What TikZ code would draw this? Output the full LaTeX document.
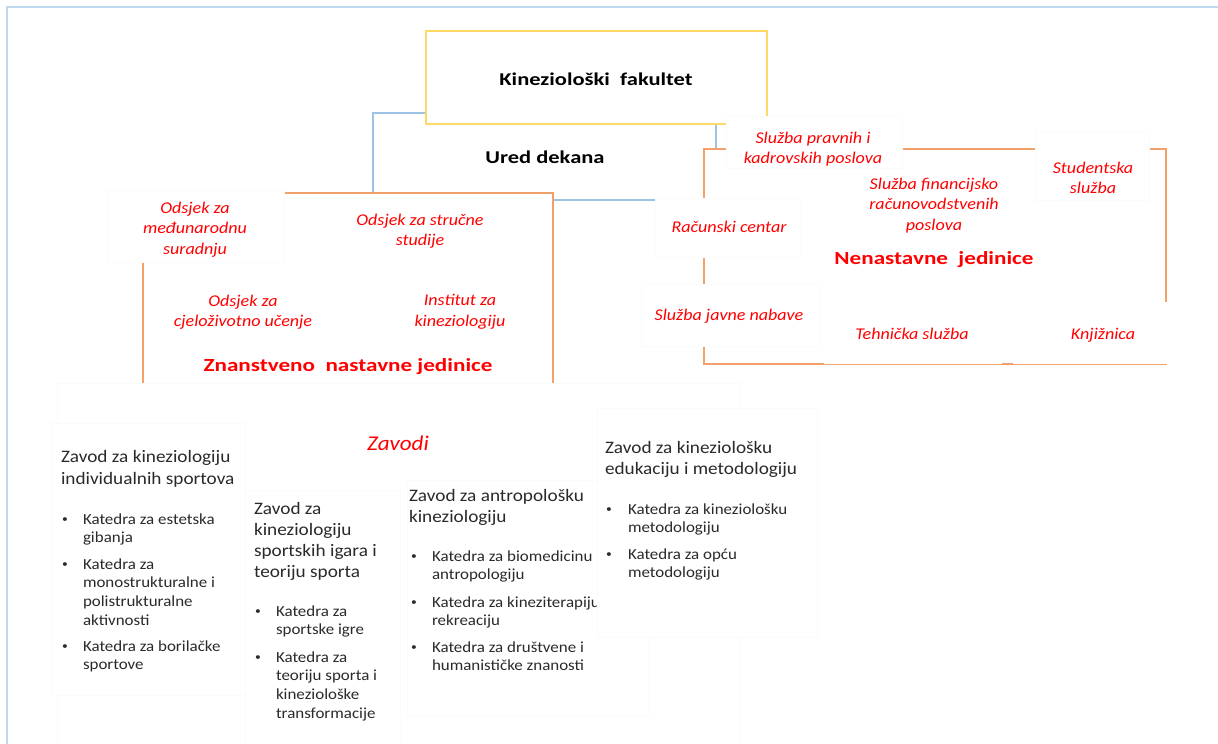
\documentclass[tikz,border=0pt]{standalone}
\usepackage{fontspec}
\setmainfont{Carlito}[FakeStretch=1.1]
\newfontfamily\widef{Carlito}[FakeStretch=1.25]
\definecolor{frameblue}{HTML}{BDD7EE}
\definecolor{lineblue}{HTML}{9DC3E6}
\definecolor{lineyellow}{HTML}{FFD966}
\definecolor{lineorange}{HTML}{F4A06A}
\definecolor{txtred}{HTML}{FF0000}
\definecolor{txtdark}{HTML}{2A2A2A}
\definecolor{faintline}{HTML}{FBFBFB}
\begin{document}
\begin{tikzpicture}[x=1pt,y=-1pt,
  every node/.style={inner sep=0pt, outer sep=0pt},
  head/.style={font=\widef\bfseries\fontsize{18}{22}\selectfont, text=black, anchor=base},
  redhead/.style={font=\widef\bfseries\fontsize{18.5}{22}\selectfont, text=txtred, anchor=base},
  unit/.style={font=\itshape\fontsize{16.4}{20.5}\selectfont, text=txtred, align=center, anchor=base},
  zavodi/.style={font=\itshape\fontsize{21}{25}\selectfont, text=txtred, anchor=base},
  ztitle/.style={font=\fontsize{17.5}{21.1}\selectfont, text=txtdark, align=left, anchor=base west},
  zitem/.style={font=\fontsize{15.4}{18.7}\selectfont, text=txtdark, align=left, anchor=base west},
  zbullet/.style={font=\fontsize{10.5}{12}\selectfont, text=txtdark, anchor=base west, yshift=1.8pt},
  wbox/.style={fill=white, draw=faintline, line width=0.8pt},
  wplain/.style={fill=white},
  orangebox/.style={draw=lineorange, line width=2pt, fill=white},
]
\useasboundingbox (0,0) rectangle (1218,744);
% outer frame
\draw[frameblue, line width=2.5pt] (7,744) -- (7,7) -- (1218,7);
% Ured dekana frame (blue)
\draw[lineblue, line width=2pt] (373,113) rectangle (716,200);
% Kinezioloski fakultet box (yellow)
\draw[lineyellow, line width=1.5pt, fill=white] (426,31) rectangle (767,124);
% orange group boxes
\path[orangebox] (143,193) rectangle (553,420);
\path[orangebox] (704,149) rectangle (1166,364);
% white text boxes covering lines
\path[wbox] (107,190) rectangle (284,262);
\path[wbox] (726,116) rectangle (902,168);
\path[wbox] (1035,131) rectangle (1149,200);
\path[wbox] (655,198) rectangle (800,257);
\path[wbox] (641,284) rectangle (820,346);
\path[wplain] (824,300) rectangle (1002,364.3);
\path[wplain] (1013,302) rectangle (1190,364.3);

% top headings
\node[head] (fak) at (596,85) {Kineziološki~ fakultet};
\node[head] (dekan) at (545,163.5) {Ured dekana};

% Znanstveno nastavne jedinice (anchor = baseline of last line)
\node[unit] (odsMS) at (195,254) {Odsjek za\\međunarodnu\\suradnju};
\node[unit] (odsSS) at (420,245.5) {Odsjek za stručne\\studije};
\node[unit] (odsCU) at (243,326.5) {Odsjek za\\cjeloživotno učenje};
\node[unit] (inst) at (460,326) {Institut za\\kineziologiju};
\node[redhead] (znj) at (348,371) {Znanstveno~ nastavne jedinice};

% Nenastavne jedinice
\node[unit] (spk) at (813,163.5) {Služba pravnih i\\kadrovskih poslova};
\node[unit] (stu) at (1093,193.5) {Studentska\\služba};
\node[unit] (sfr) at (934,230) {Služba financijsko\\računovodstvenih\\poslova};
\node[unit] (rc) at (729,232.5) {Računski centar};
\node[redhead] (nnj) at (934,264) {Nenastavne~ jedinice};
\node[unit] (sjn) at (729,320.5) {Služba javne nabave};
\node[unit] (teh) at (912,339.5) {Tehnička služba};
\node[unit] (knj) at (1103,339.5) {Knjižnica};

% Zavodi
\path[wbox] (57,383) rectangle (740,750);
\path[wbox] (51,423) rectangle (245,695);
\path[wbox] (245,490) rectangle (400,750);
\path[wbox] (407,480) rectangle (648,715);
\node[zavodi] (zav) at (398,450) {Zavodi};

% Zavod 1
\node[ztitle] (z1) at (61,484) {Zavod za kineziologiju\\individualnih sportova};
\node[zbullet] (b11) at (62,524) {\textbullet};
\node[zitem] (k11) at (83,542.7) {Katedra za estetska\\gibanja};
\node[zbullet] (b12) at (62,569) {\textbullet};
\node[zitem] (k12) at (83,625.1) {Katedra za\\monostrukturalne i\\polistrukturalne\\aktivnosti};
\node[zbullet] (b13) at (62,651) {\textbullet};
\node[zitem] (k13) at (83,669.7) {Katedra za borilačke\\sportove};

% Zavod 2
\node[ztitle] (z2) at (254,577.3) {Zavod za\\kineziologiju\\sportskih igara i\\teoriju sporta};
\node[zbullet] (b21) at (255,616) {\textbullet};
\node[zitem] (k21) at (276,634.7) {Katedra za\\sportske igre};
\node[zbullet] (b22) at (255,662) {\textbullet};
\node[zitem] (k22) at (276,718.1) {Katedra za\\teoriju sporta i\\kineziološke\\transformacije};

% Zavod 3
\node[ztitle] (z3) at (409,522.1) {Zavod za antropološku\\kineziologiju};
\node[zbullet] (b31) at (411,561) {\textbullet};
\node[zitem] (k31) at (432,579.7) {Katedra za biomedicinu\\antropologiju};
\node[zbullet] (b32) at (411,607) {\textbullet};
\node[zitem] (k32) at (432,625.7) {Katedra za kineziterapiju i\\rekreaciju};
\node[zbullet] (b33) at (411,652) {\textbullet};
\node[zitem] (k33) at (432,670.7) {Katedra za društvene i\\humanističke znanosti};

% Zavod 4 (its box hides the end of a line of Zavod 3)
\path[wbox] (597,408) rectangle (817,637);
\node[ztitle] (z4) at (605,474.5) {Zavod za kineziološku\\edukaciju i metodologiju};
\node[zbullet] (b41) at (606,514) {\textbullet};
\node[zitem] (k41) at (628,532.7) {Katedra za kineziološku\\metodologiju};
\node[zbullet] (b42) at (606,559) {\textbullet};
\node[zitem] (k42) at (628,577.7) {Katedra za opću\\metodologiju};
\end{tikzpicture}
\end{document}
